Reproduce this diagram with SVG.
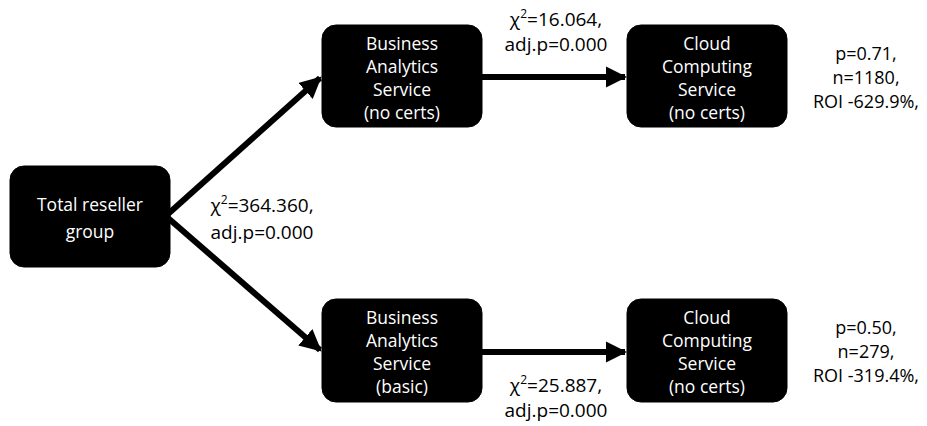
<svg xmlns="http://www.w3.org/2000/svg" width="927" height="426" viewBox="0 0 927 426">
<style>
.box{fill:#000;stroke:#000}
.wt{fill:#fff;font-family:"Open Sans","Liberation Sans",sans-serif;font-size:17.5px;text-anchor:middle}
.bt{fill:#000;font-family:"Open Sans","Liberation Sans",sans-serif;font-size:19px;text-anchor:middle}
.st{fill:#000;font-family:"Open Sans","Liberation Sans",sans-serif;font-size:18px;text-anchor:middle}
.ln{stroke:#000;stroke-width:6;fill:none}
</style>
<defs>
<marker id="ah" viewBox="0 0 10 10" refX="9" refY="5" markerWidth="3.6" markerHeight="3.6" orient="auto" markerUnits="strokeWidth">
<path d="M0,0 L10,5 L0,10 Z" fill="#000"/>
</marker>
</defs>
<rect width="927" height="426" fill="#fff"/>
<g id="connectors">
<line class="ln" x1="168" y1="214" x2="320" y2="78" marker-end="url(#ah)"/>
<line class="ln" x1="168" y1="218" x2="320" y2="350" marker-end="url(#ah)"/>
<line class="ln" x1="482" y1="77" x2="625" y2="77" marker-end="url(#ah)"/>
<line class="ln" x1="482" y1="352" x2="625" y2="352" marker-end="url(#ah)"/>
</g>
<g id="total">
<rect class="box" x="10" y="166" width="160" height="101" rx="14"/>
<text class="wt" x="90" y="211">Total reseller</text>
<text class="wt" x="90" y="238">group</text>
</g>
<g id="ba-nocerts">
<rect class="box" x="322" y="25" width="160" height="102" rx="14"/>
<text class="wt" x="402" y="50">Business</text>
<text class="wt" x="402" y="73">Analytics</text>
<text class="wt" x="402" y="96">Service</text>
<text class="wt" x="402" y="119">(no certs)</text>
</g>
<g id="cc-top">
<rect class="box" x="627" y="25" width="160" height="102" rx="14"/>
<text class="wt" x="707" y="50">Cloud</text>
<text class="wt" x="707" y="73">Computing</text>
<text class="wt" x="707" y="96">Service</text>
<text class="wt" x="707" y="119">(no certs)</text>
</g>
<g id="ba-basic">
<rect class="box" x="322" y="299" width="160" height="103" rx="14"/>
<text class="wt" x="402" y="324">Business</text>
<text class="wt" x="402" y="347">Analytics</text>
<text class="wt" x="402" y="370">Service</text>
<text class="wt" x="402" y="393">(basic)</text>
</g>
<g id="cc-bottom">
<rect class="box" x="627" y="299" width="160" height="103" rx="14"/>
<text class="wt" x="707" y="324">Cloud</text>
<text class="wt" x="707" y="347">Computing</text>
<text class="wt" x="707" y="370">Service</text>
<text class="wt" x="707" y="393">(no certs)</text>
</g>
<g id="labels">
<text class="bt" x="262" y="212">χ<tspan font-size="12" dy="-8">2</tspan><tspan dy="8">=364.360,</tspan></text>
<text class="bt" x="262" y="239">adj.p=0.000</text>
<text class="bt" x="556" y="26">χ<tspan font-size="12" dy="-8">2</tspan><tspan dy="8">=16.064,</tspan></text>
<text class="bt" x="556" y="51">adj.p=0.000</text>
<text class="bt" x="556" y="392">χ<tspan font-size="12" dy="-8">2</tspan><tspan dy="8">=25.887,</tspan></text>
<text class="bt" x="556" y="417">adj.p=0.000</text>
<text class="st" x="866" y="60">p=0.71,</text>
<text class="st" x="866" y="84">n=1180,</text>
<text class="st" x="866" y="108">ROI -629.9%,</text>
<text class="st" x="866" y="334">p=0.50,</text>
<text class="st" x="866" y="358">n=279,</text>
<text class="st" x="866" y="382">ROI -319.4%,</text>
</g>
</svg>
